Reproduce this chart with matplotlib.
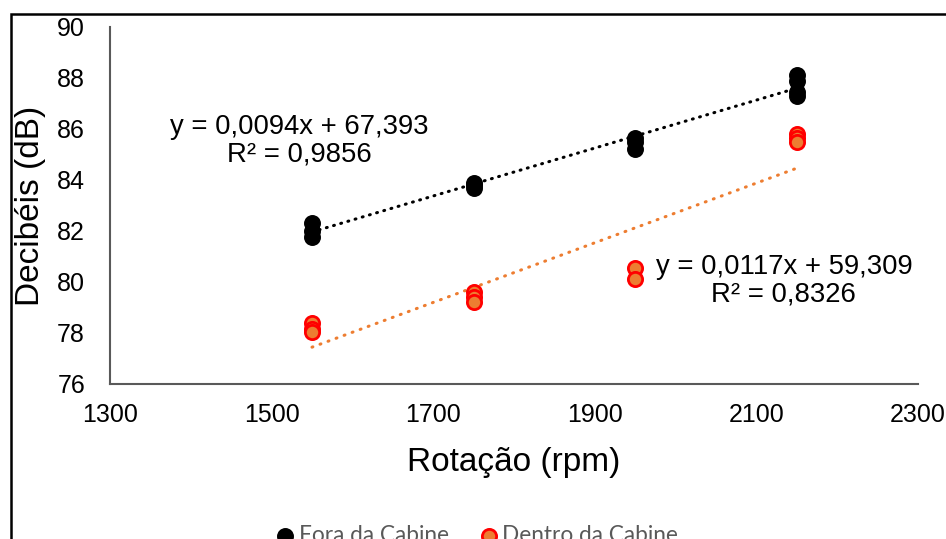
import matplotlib
matplotlib.use("Agg")
import matplotlib.pyplot as plt
from matplotlib.patches import Rectangle
import numpy as np

# Data
rpm_fora = [1550, 1550, 1550, 1750, 1750, 1750, 1950, 1950, 1950, 2150, 2150, 2150, 2150]
db_fora = [82.3, 82.0, 81.75, 83.9, 83.8, 83.7, 85.65, 85.5, 85.2, 88.1, 87.9, 87.45, 87.3]
rpm_dentro = [1550, 1550, 1550, 1750, 1750, 1750, 1950, 1950, 2150, 2150, 2150]
db_dentro = [78.4, 78.15, 78.05, 79.6, 79.4, 79.2, 80.55, 80.1, 85.8, 85.65, 85.5]

fit_fora = (0.0094, 67.393)
fit_dentro = (0.0117, 59.309)
eq_fora = "y = 0,0094x + 67,393\nR² = 0,9856"
eq_dentro = "y = 0,0117x + 59,309\nR² = 0,8326"
trend_x = [1550, 2150]

x_ticks = [1300, 1500, 1700, 1900, 2100, 2300]
y_ticks = [76, 78, 80, 82, 84, 86, 88, 90]
series_names = ["Fora da Cabine", "Dentro da Cabine"]

plt.rcParams['font.family'] = ['Liberation Sans', 'DejaVu Sans']

W, H = 946, 539
fig = plt.figure(figsize=(W / 100, H / 100), dpi=100)
fig.patch.set_facecolor('white')

# outer frame
fig.patches.append(Rectangle((10.5 / W, -0.2), 1.2, (H - 13.5) / H + 0.2,
                             transform=fig.transFigure, fill=False,
                             edgecolor='black', linewidth=1.8, zorder=0))

ax = fig.add_axes([110 / W, (H - 384) / H, (918 - 110) / W, (384 - 27) / H])
ax.set_xlim(1300, 2300)
ax.set_ylim(76, 90)
ax.set_xticks(x_ticks)
ax.set_yticks(y_ticks)
for s in ['top', 'right']:
    ax.spines[s].set_visible(False)
for s in ['left', 'bottom']:
    ax.spines[s].set_color('#595959')
    ax.spines[s].set_linewidth(1.5)
ax.tick_params(axis='both', length=0, labelsize=18, colors='black')
ax.tick_params(axis='y', pad=18)
ax.tick_params(axis='x', pad=14)

tx = np.array(trend_x, dtype=float)
ax.plot(tx, fit_fora[0] * tx + fit_fora[1], color='black', linewidth=2.2,
        linestyle=(0, (0.3, 2.15)), dash_capstyle='round', zorder=2)
ax.plot(tx, fit_dentro[0] * tx + fit_dentro[1], color='#ED7D31', linewidth=2.2,
        linestyle=(0, (0.3, 2.5)), dash_capstyle='round', zorder=2)

ax.scatter(rpm_fora, db_fora, s=125, color='black', zorder=3, label=series_names[0])
ax.scatter(rpm_dentro, db_dentro, s=105, facecolor='#ED7D31', edgecolor='#FF0000',
           linewidth=2, zorder=3, label=series_names[1])

ax.text(1534, 85.53, eq_fora, ha='center', va='center', fontsize=19.8,
        linespacing=1.05)
ax.text(2134, 80.04, eq_dentro, ha='center', va='center', fontsize=19.8,
        linespacing=1.1)

ax.set_xlabel("Rotação (rpm)", fontsize=24)
ax.set_ylabel("Decibéis (dB)", fontsize=24)
ax.xaxis.set_label_coords(0.5, -0.177)
ax.yaxis.set_label_coords(-0.079, 0.5)

leg = fig.legend(handles=ax.collections, labels=series_names, loc='center',
                 bbox_to_anchor=(475 / W, (H - 535) / H), ncol=2, frameon=False,
                 handletextpad=0.0, columnspacing=1.15, handlelength=1.2,
                 markerscale=1.0, prop={'family': ['Lato', 'DejaVu Sans'], 'size': 16.3})
for t in leg.get_texts():
    t.set_color('#595959')

fig.savefig("out.png", dpi=100)
